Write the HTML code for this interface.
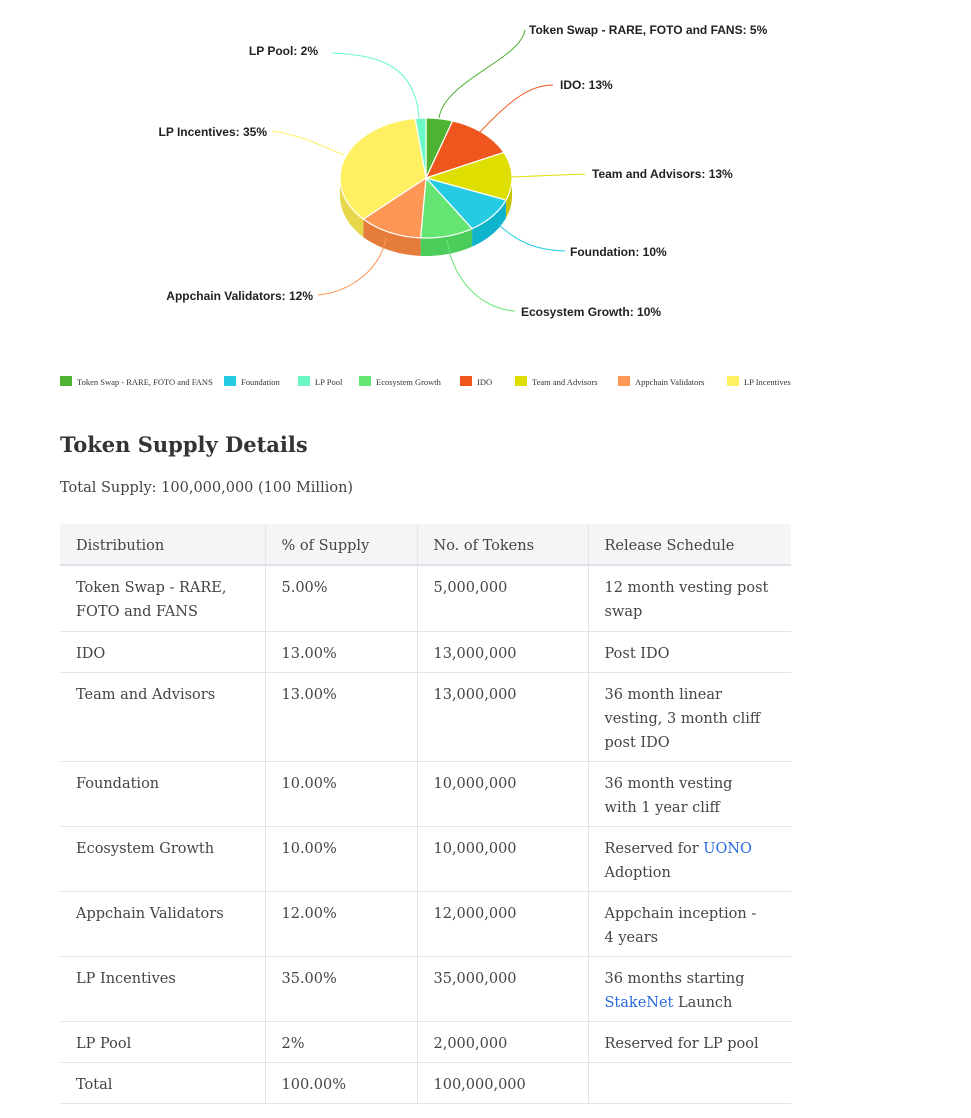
<!DOCTYPE html>
<html><head><meta charset="utf-8"><style>
body{margin:0;background:#fff;width:971px;height:1118px;overflow:hidden;position:relative;font-family:"DejaVu Serif",serif;color:#444}
svg{position:absolute;left:0;top:0}
.lab{font-family:"Liberation Sans",sans-serif;font-size:12px;font-weight:bold;fill:#222}
.lg{font-family:"Liberation Serif",serif;font-size:8.5px;fill:#333}
h2{position:absolute;left:60px;top:432px;margin:0;font-size:21px;font-weight:bold;color:#333;font-family:"DejaVu Serif",serif}
.ts{position:absolute;left:60px;top:480px;font-size:14.5px;color:#444}
table{position:absolute;left:60px;top:524px;width:731px;border-collapse:collapse;font-size:14.5px;line-height:24px}
td,th{text-align:left;vertical-align:top;padding:10px 16px 6px;border-bottom:1px solid #e3e5e8;border-right:1px solid #e3e5e8;font-weight:normal;white-space:nowrap}
td:last-child,th:last-child{border-right:none}
th{background:#f4f5f7;border-bottom:2px solid #dfe2e6;color:#444}
a{color:#2b6be0;text-decoration:none}
</style></head><body>
<svg id="s" width="971" height="420"></svg>
<h2>Token Supply Details</h2>
<div class="ts">Total Supply: 100,000,000 (100 Million)</div>
<table>
<colgroup><col style="width:205px"><col style="width:152px"><col style="width:171px"><col></colgroup>
<tr style="height:40px"><th>Distribution</th><th>% of Supply</th><th>No. of Tokens</th><th>Release Schedule</th></tr>
<tr style="height:66px"><td>Token Swap - RARE,<br>FOTO and FANS</td><td>5.00%</td><td>5,000,000</td><td>12 month vesting post<br>swap</td></tr>
<tr style="height:41px"><td>IDO</td><td>13.00%</td><td>13,000,000</td><td>Post IDO</td></tr>
<tr style="height:89px"><td>Team and Advisors</td><td>13.00%</td><td>13,000,000</td><td>36 month linear<br>vesting, 3 month cliff<br>post IDO</td></tr>
<tr style="height:65px"><td>Foundation</td><td>10.00%</td><td>10,000,000</td><td>36 month vesting<br>with 1 year cliff</td></tr>
<tr style="height:65px"><td>Ecosystem Growth</td><td>10.00%</td><td>10,000,000</td><td>Reserved for <a>UONO</a><br>Adoption</td></tr>
<tr style="height:65px"><td>Appchain Validators</td><td>12.00%</td><td>12,000,000</td><td>Appchain inception -<br>4 years</td></tr>
<tr style="height:65px"><td>LP Incentives</td><td>35.00%</td><td>35,000,000</td><td>36 months starting<br><a>StakeNet</a> Launch</td></tr>
<tr style="height:41px"><td>LP Pool</td><td>2%</td><td>2,000,000</td><td>Reserved for LP pool</td></tr>
<tr style="height:41px"><td>Total</td><td>100.00%</td><td>100,000,000</td><td></td></tr>
</table>
<script>
var s=document.getElementById('s'),ns='http://www.w3.org/2000/svg';
function el(t,a,txt){var e=document.createElementNS(ns,t);for(var k in a)e.setAttribute(k,a[k]);if(txt)e.textContent=txt;s.appendChild(e);return e}
var cx=426,cy=178,rx=86,ry=60,d=18;
var D=[[5,'#4fb332','#3f9a28'],[13,'#ef561e','#cc4515'],[13,'#dedf00','#c4c400'],[10,'#25cbe3','#10b3cc'],[10,'#64e472','#4ccd5b'],[12,'#fe9655','#e57c3c'],[35,'#fff062','#e6d84a'],[2,'#6af9c4','#55e0ad']];
function P(a,dy){return [cx+rx*Math.sin(a),cy-ry*Math.cos(a)+(dy||0)]}
var a0=0,sl=[];D.forEach(function(x){var a1=a0+x[0]/100*2*Math.PI;sl.push([a0,a1,x]);a0=a1});
sl.forEach(function(q){var s0=Math.max(q[0],Math.PI/2),s1=Math.min(q[1],1.5*Math.PI);if(s1<=s0)return;
var p=[],n=30;for(var i=0;i<=n;i++)p.push(P(s0+(s1-s0)*i/n));for(var i=n;i>=0;i--)p.push(P(s0+(s1-s0)*i/n,d));
el('polygon',{points:p.map(function(v){return v.join(',')}).join(' '),fill:q[2][2]});});
sl.forEach(function(q){var p=[[cx,cy]],n=60;for(var i=0;i<=n;i++)p.push(P(q[0]+(q[1]-q[0])*i/n));
el('polygon',{points:p.map(function(v){return v.join(',')}).join(' '),fill:q[2][1],stroke:'#fff','stroke-width':1.2,'stroke-linejoin':'round'});});
var L=[['M439,118 C445,80 520,60 525,30','#4fb332',529,34,'Token Swap - RARE, FOTO and FANS: 5%','start'],
['M480,132 C510,100 530,85 553,85','#ef561e',560,89,'IDO: 13%','start'],
['M511,177 L585,174','#dedf00',592,178,'Team and Advisors: 13%','start'],
['M498,224 C520,245 540,250 565,251','#25cbe3',570,256,'Foundation: 10%','start'],
['M447,240 C455,290 490,310 515,311','#64e472',521,316,'Ecosystem Growth: 10%','start'],
['M386,238 C380,270 350,292 318,295','#fe9655',313,300,'Appchain Validators: 12%','end'],
['M344,155 C320,145 300,135 272,131','#fff062',267,136,'LP Incentives: 35%','end'],
['M419,118 C415,60 370,55 332,53','#6af9c4',318,55,'LP Pool: 2%','end']];
L.forEach(function(l){el('path',{d:l[0],stroke:l[1],fill:'none','stroke-width':1});el('text',{x:l[2],y:l[3],'class':'lab','text-anchor':l[5]},l[4]);});
var G=[[60,'#4fb332','Token Swap - RARE, FOTO and FANS'],[224,'#25cbe3','Foundation'],[298,'#6af9c4','LP Pool'],[359,'#64e472','Ecosystem Growth'],[460,'#ef561e','IDO'],[515,'#dedf00','Team and Advisors'],[618,'#fe9655','Appchain Validators'],[727,'#fff062','LP Incentives']];
G.forEach(function(g){el('rect',{x:g[0],y:376,width:12,height:10,fill:g[1]});el('text',{x:g[0]+17,y:385,'class':'lg'},g[2]);});
</script>
</body></html>
